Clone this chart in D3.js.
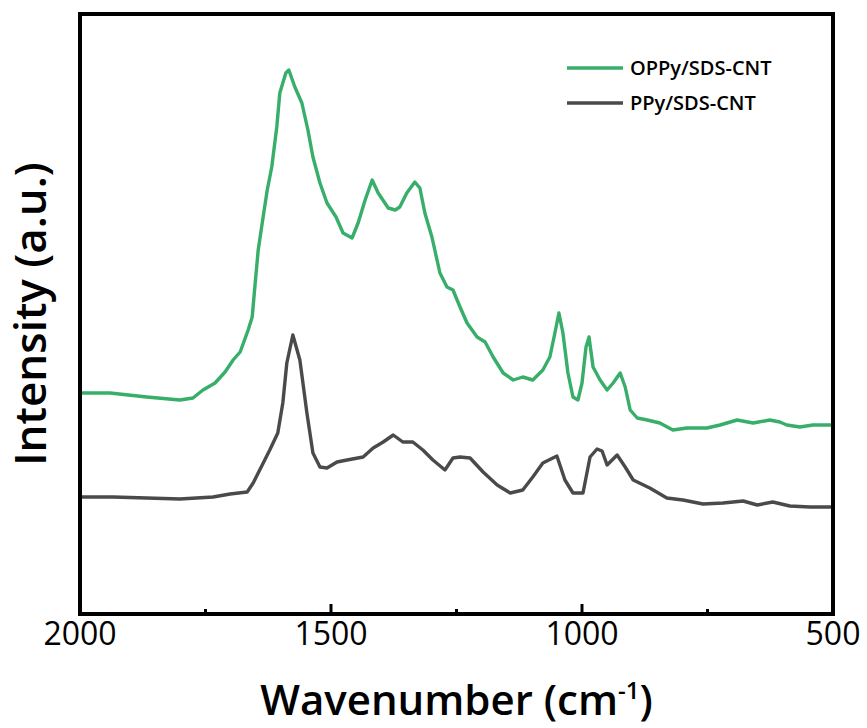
<!DOCTYPE html>
<html>
<head>
<meta charset="utf-8">
<script src="https://cdn.jsdelivr.net/npm/d3@7"></script>
<style>
  body { margin: 0; background: #fff; }
  text { font-family: "Open Sans", "Noto Sans", sans-serif; fill: #000; }
</style>
</head>
<body>
<svg width="867" height="728"></svg>
<script>
// Spectra (wavenumber in cm-1, intensity in a.u.)
const oppyWave = [2000, 1940, 1867, 1801, 1775, 1755, 1731, 1711, 1695, 1681, 1665, 1657, 1651, 1645, 1637, 1627, 1618, 1608, 1602, 1590, 1584, 1572, 1558, 1546, 1536, 1522, 1508, 1490, 1476, 1458, 1446, 1432, 1418, 1406, 1386, 1372, 1363, 1349, 1333, 1323, 1313, 1299, 1283, 1269, 1257, 1243, 1229, 1209, 1193, 1177, 1157, 1137, 1118, 1098, 1078, 1064, 1054, 1046, 1038, 1028, 1018, 1008, 1000, 992, 986, 978, 964, 950, 938, 924, 914, 904, 890, 870, 845, 819, 791, 751, 725, 691, 659, 626, 606, 592, 566, 540, 500];
const oppyInt = [221, 221, 217, 214, 216, 224, 231, 242, 254, 262, 284, 297, 331, 364, 391, 424, 447, 487, 521, 541, 544, 527, 511, 484, 457, 431, 411, 397, 381, 376, 391, 414, 434, 421, 406, 404, 407, 421, 432, 426, 401, 377, 341, 327, 324, 307, 291, 277, 272, 257, 241, 234, 237, 234, 244, 257, 281, 301, 281, 241, 217, 214, 231, 267, 277, 247, 234, 224, 231, 241, 227, 204, 196, 194, 191, 184, 186, 186, 189, 194, 191, 194, 192, 189, 187, 189, 189];

const ppyWave = [2000, 1934, 1867, 1801, 1735, 1701, 1667, 1655, 1637, 1622, 1606, 1596, 1588, 1576, 1562, 1548, 1536, 1522, 1508, 1488, 1468, 1436, 1416, 1396, 1376, 1357, 1337, 1317, 1297, 1273, 1257, 1243, 1223, 1197, 1169, 1143, 1118, 1098, 1078, 1050, 1034, 1018, 998, 984, 970, 960, 950, 930, 914, 898, 865, 831, 799, 759, 719, 679, 651, 620, 586, 546, 500];
const ppyInt = [117, 117, 116, 115, 117, 120, 122, 131, 149, 164, 181, 211, 251, 279, 254, 201, 161, 147, 146, 152, 154, 157, 166, 172, 179, 172, 172, 164, 154, 144, 156, 157, 156, 142, 129, 121, 124, 137, 151, 158, 134, 121, 121, 157, 165, 163, 149, 159, 147, 134, 126, 116, 114, 110, 111, 113, 109, 112, 108, 107, 107];

const seriesNames = ["OPPy/SDS-CNT", "PPy/SDS-CNT"];
const seriesColors = ["#37ae69", "#4a4a4a"];
const majorTicks = [2000, 1500, 1000, 500];
const minorTicks = [1750, 1250, 750];

const svg = d3.select("svg");
const margin = { left: 80, right: 34, top: 14, bottom: 114 };
const width = +svg.attr("width"), height = +svg.attr("height");
const x0 = margin.left, x1 = width - margin.right;
const y0 = height - margin.bottom, y1 = margin.top;

const x = d3.scaleLinear().domain([2000, 500]).range([x0, x1]);
const y = d3.scaleLinear().domain([0, 600]).range([y0, y1]);

const line = d3.line()
  .x(d => x(d[0]))
  .y(d => y(d[1]));

const series = [
  d3.zip(oppyWave, oppyInt),
  d3.zip(ppyWave, ppyInt)
];

svg.selectAll("path.spec")
  .data(series)
  .enter()
  .append("path")
  .attr("class", "spec")
  .attr("d", line)
  .attr("fill", "none")
  .attr("stroke", (d, i) => seriesColors[i])
  .attr("stroke-width", 3.4)
  .attr("stroke-linejoin", "round");

// bottom axis, ticks pointing inward
const axis = svg.append("g").attr("transform", `translate(0,${y0})`);
axis.selectAll("line.major")
  .data(majorTicks)
  .enter().append("line")
  .attr("x1", d => x(d)).attr("x2", d => x(d))
  .attr("y1", 0).attr("y2", -10)
  .attr("stroke", "#000").attr("stroke-width", 3);
axis.selectAll("line.minor")
  .data(minorTicks)
  .enter().append("line")
  .attr("x1", d => x(d)).attr("x2", d => x(d))
  .attr("y1", 0).attr("y2", -5)
  .attr("stroke", "#000").attr("stroke-width", 3);
axis.selectAll("text")
  .data(majorTicks)
  .enter().append("text")
  .attr("x", d => x(d))
  .attr("y", 31)
  .attr("text-anchor", "middle")
  .style("font-size", "32px")
  .style("font-weight", 500)
  .text(d => d);

// frame
svg.append("rect")
  .attr("x", x0).attr("y", y1)
  .attr("width", x1 - x0).attr("height", y0 - y1)
  .attr("fill", "none")
  .attr("stroke", "#000")
  .attr("stroke-width", 4);

// axis titles
const xt = svg.append("text")
  .attr("x", (x0 + x1) / 2)
  .attr("y", 715)
  .attr("text-anchor", "middle")
  .style("font-size", "42px")
  .style("font-weight", 600);
xt.append("tspan").text("Wavenumber (cm");
xt.append("tspan").attr("dy", -16).style("font-size", "24px").text("-1");
xt.append("tspan").attr("dy", 16).text(")");

svg.append("text")
  .attr("transform", `translate(46,${(y0 + y1) / 2}) rotate(-90)`)
  .attr("text-anchor", "middle")
  .style("font-size", "44px")
  .style("font-weight", 600)
  .text("Intensity (a.u.)");

// legend
const legend = svg.append("g").attr("transform", "translate(567,68)");
const item = legend.selectAll("g")
  .data(seriesNames)
  .enter().append("g")
  .attr("transform", (d, i) => `translate(0,${i * 35})`);
item.append("line")
  .attr("x1", 0).attr("x2", 56)
  .attr("stroke", (d, i) => seriesColors[i])
  .attr("stroke-width", 3.4);
item.append("text")
  .attr("x", 63)
  .attr("y", 7)
  .style("font-size", "20px")
  .style("font-weight", 600)
  .text(d => d);
</script>
</body>
</html>
